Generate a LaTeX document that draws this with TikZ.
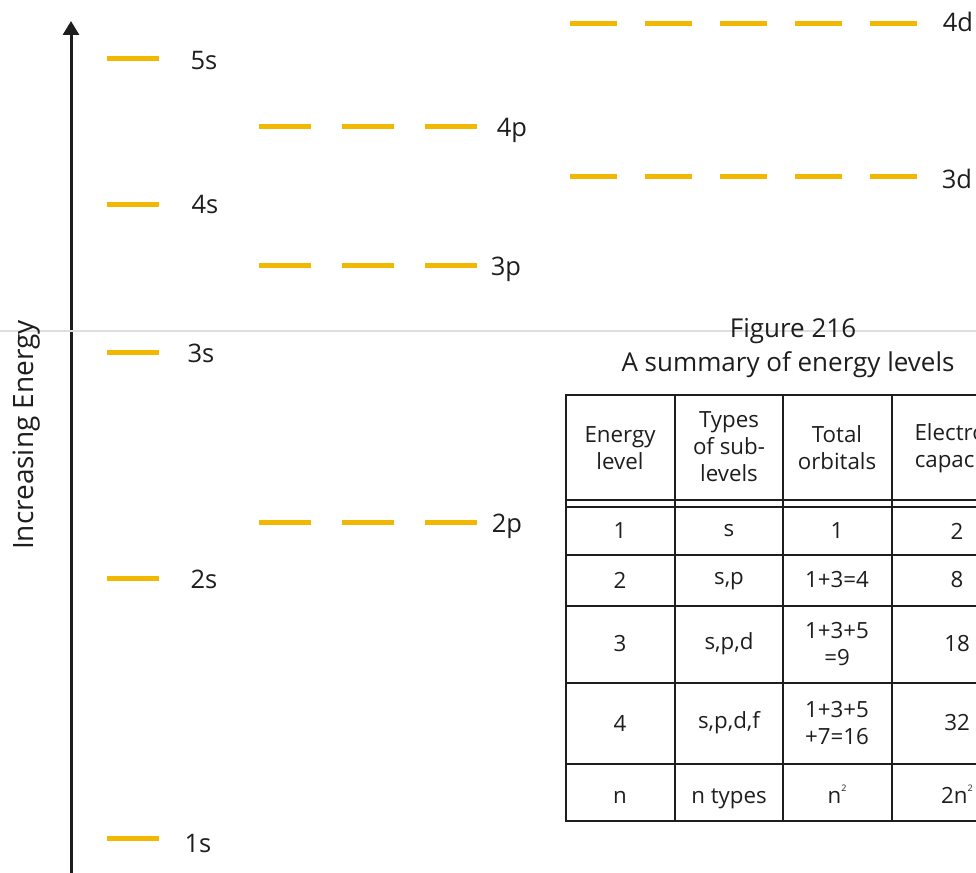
\documentclass[tikz,border=0pt]{standalone}
\usepackage{fontspec}
\setmainfont{Open Sans}
\usetikzlibrary{arrows.meta}
\definecolor{lvlcol}{RGB}{242,183,0}
\definecolor{ink}{RGB}{30,30,30}
\begin{document}
\begin{tikzpicture}[x=1pt,y=-1pt,
  level/.style={draw=lvlcol, line width=5pt},
  lab/.style={anchor=base, inner sep=0pt, font=\fontsize{25.5}{30}\selectfont, text=ink},
  cell/.style={align=center, inner sep=0pt, font=\fontsize{22.3}{27}\selectfont, text=ink},
  tgrid/.style={draw=ink, line width=1.8pt},
  ttl/.style={inner sep=0pt, font=\fontsize{26}{30}\selectfont, text=ink}]
\useasboundingbox (0,0) rectangle (976,872);
\clip (0,0) rectangle (976,872);
\fill[white] (0,0) rectangle (976,872);
% axis
\coordinate (axb) at (71,880);
\coordinate (axt) at (71,21);
\draw[draw=ink, line width=3pt, -{Triangle[length=14pt,width=16pt]}] (axb) -- (axt);
% thin gray rule
\coordinate (gl) at (0,331);
\coordinate (gr) at (976,331);
\draw[black!13, line width=1.5pt] (gl) -- (gr);
\node[lab, anchor=center, rotate=90, font=\fontsize{28}{32}\selectfont] (ylab) at (27,435) {Increasing Energy};
% s levels
\foreach \y/\n/\lx/\ly in {59/5s/204/70, 204/4s/205/213, 352/3s/201/362, 578/2s/204/588, 838/1s/198/852}{
  \draw[level] (107,\y) -- (159,\y);
  \node[lab, anchor=base] (L\n) at (\lx,\ly) {\n};
}
% p levels
\foreach \y/\n/\lx/\ly in {126/4p/512/136, 265/3p/506/275, 522/2p/507/532}{
  \foreach \x in {259,342,425}{\draw[level] (\x,\y) -- (\x+52,\y);}
  \node[lab, anchor=base] (L\n) at (\lx,\ly) {\n};
}
% d levels
\foreach \y/\n/\lx/\ly in {24/4d/958/32, 176/3d/957/188}{
  \foreach \x in {570,645,720,795,870}{\draw[level] (\x,\y) -- (\x+47,\y);}
  \node[lab, anchor=base] (L\n) at (\lx,\ly) {\n};
}
% title
\node[ttl] (fig) at (793,331) {Figure 216};
\node[ttl] (sum) at (788,365) {A summary of energy levels};
% table grid
\draw[tgrid] (566,395) rectangle (1022,821);
\foreach \y in {500,507,555,606,683,764}{\draw[tgrid] (566,\y) -- (1022,\y);}
\foreach \x in {675,783,892}{\draw[tgrid] (\x,395) -- (\x,821);}
% header
\node[cell] (h1) at (620,448) {Energy\\level};
\node[cell] (h2) at (729,447) {Types\\of sub-\\levels};
\node[cell] (h3) at (837,448) {Total\\orbitals};
\node[cell] (h4) at (957,448) {Electron\\capacity};
% rows
\node[cell] (r1a) at (620,531) {1};
\node[cell] (r1b) at (729,531) {s};
\node[cell] (r1c) at (837,531) {1};
\node[cell] (r1d) at (957,531) {2};
\node[cell] (r2a) at (620,580) {2};
\node[cell] (r2b) at (729,581) {s,p};
\node[cell] (r2c) at (837,580) {1+3=4};
\node[cell] (r2d) at (957,580) {8};
\node[cell] (r3a) at (620,644) {3};
\node[cell] (r3b) at (729,644) {s,p,d};
\node[cell] (r3c) at (837,644) {1+3+5\\=9};
\node[cell] (r3d) at (957,644) {18};
\node[cell] (r4a) at (620,723) {4};
\node[cell] (r4b) at (729,723) {s,p,d,f};
\node[cell] (r4c) at (837,723) {1+3+5\\+7=16};
\node[cell] (r4d) at (957,723) {32};
\node[cell, anchor=base] (rna) at (620,803) {n};
\node[cell, anchor=base] (rnb) at (729,803) {n types};
\node[cell, anchor=base] (rnc) at (837,803) {n\raisebox{1.0ex}{\fontsize{9}{9}\selectfont 2}};
\node[cell, anchor=base] (rnd) at (957,803) {2n\raisebox{1.0ex}{\fontsize{9}{9}\selectfont 2}};
\end{tikzpicture}
\end{document}
